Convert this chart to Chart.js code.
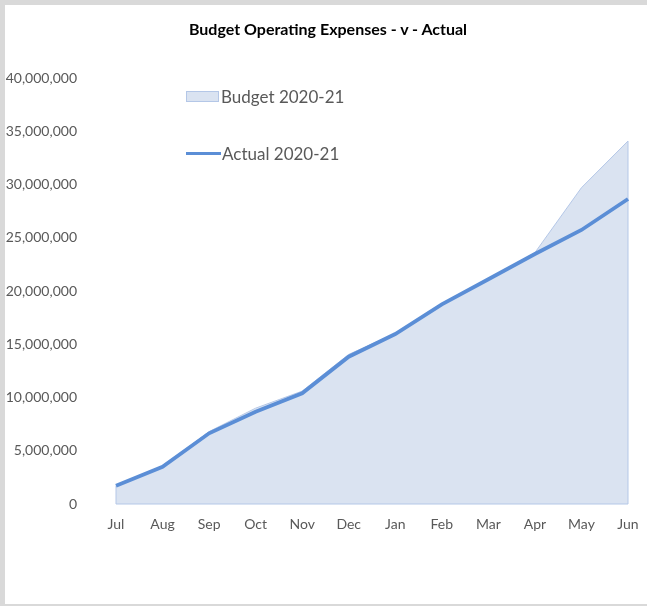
<!DOCTYPE html>
<html>
<head>
<meta charset="utf-8">
<script src="https://cdn.jsdelivr.net/npm/chart.js@4/dist/chart.umd.min.js"></script>
<style>
  html, body { margin: 0; padding: 0; background: #d9d9d9; overflow: hidden; }
  #frame { position: absolute; left: 5px; top: 5px; width: 642px; height: 599px; background: #fff; }
  #chart { position: absolute; left: 0; top: 0; }
  #title { position: absolute; left: 5px; width: 646px; top: 19px; text-align: center; font-family: Lato, sans-serif; font-weight: bold; font-size: 16px; color: #000; }
  .legend-item { position: absolute; left: 186px; font-family: Lato, sans-serif; font-size: 17px; color: #595959; display: flex; align-items: center; }
  .swatch-box { width: 33px; height: 11px; background: #dae3f1; border: 1px solid #b4c7e7; box-sizing: border-box; margin-right: 2px; }
  .swatch-line { width: 35px; height: 3.5px; background: #5b8ed6; margin-right: 1px; }
</style>
</head>
<body>
<div id="frame"></div>
<canvas id="chart" width="647" height="606"></canvas>
<div id="title">Budget Operating Expenses - v - Actual</div>
<div class="legend-item" style="top:86px;"><span class="swatch-box"></span>Budget 2020-21</div>
<div class="legend-item" style="top:143px;"><span class="swatch-line"></span>Actual 2020-21</div>
<script>
const months = ["Jul", "Aug", "Sep", "Oct", "Nov", "Dec", "Jan", "Feb", "Mar", "Apr", "May", "Jun"];
const budget = [1720000, 3500000, 6800000, 9000000, 10600000, 14050000, 16000000, 18750000, 21100000, 23600000, 29700000, 34080000];
const actual = [1720000, 3500000, 6640000, 8670000, 10390000, 13830000, 15960000, 18750000, 21100000, 23470000, 25730000, 28640000];

// outline the left, bottom and right edges of the budget area like Excel does
const budgetEdges = {
  id: "budgetEdges",
  afterDatasetDraw(chart, args) {
    if (args.index !== 1) return;
    const pts = args.meta.data;
    const y0 = chart.scales.y.getPixelForValue(0);
    const first = pts[0];
    const last = pts[pts.length - 1];
    const ctx = chart.ctx;
    ctx.save();
    ctx.strokeStyle = "#b4c7e7";
    ctx.lineWidth = 1;
    ctx.beginPath();
    ctx.moveTo(first.x, first.y);
    ctx.lineTo(first.x, y0);
    ctx.lineTo(last.x, y0);
    ctx.lineTo(last.x, last.y);
    ctx.stroke();
    ctx.restore();
  },
};

const canvas = document.getElementById("chart");
new Chart(canvas, {
  type: "line",
  data: {
    labels: months,
    datasets: [
      {
        label: "Actual 2020-21",
        data: actual,
        borderColor: "#5b8ed6",
        borderWidth: 3.8,
        pointRadius: 0,
        fill: false,
        tension: 0,
        order: 0,
      },
      {
        label: "Budget 2020-21",
        data: budget,
        borderColor: "#b4c7e7",
        backgroundColor: "#dae3f1",
        borderWidth: 1,
        pointRadius: 0,
        fill: "origin",
        tension: 0,
        order: 1,
      },
    ],
  },
  options: {
    responsive: false,
    animation: false,
    devicePixelRatio: 1,
    layout: { padding: { left: 0, right: 19, top: 78, bottom: 0 } },
    plugins: {
      legend: { display: false },
      tooltip: { enabled: false },
      title: { display: false },
    },
    scales: {
      x: {
        offset: false,
        grid: { display: false },
        border: { display: false },
        ticks: { color: "#595959", font: { family: "Lato", size: 14 }, padding: 4, maxRotation: 0, autoSkip: false },
        afterFit: (scale) => { scale.height = 102; },
      },
      y: {
        min: 0,
        max: 40000000,
        grid: { display: false },
        border: { display: false },
        ticks: {
          stepSize: 5000000,
          color: "#595959",
          font: { family: "Lato", size: 14 },
          padding: 31,
          callback: (v) => v.toLocaleString("en-US"),
        },
        afterFit: (scale) => { scale.width = 116; },
      },
    },
  },
  plugins: [budgetEdges],
});
</script>
</body>
</html>
